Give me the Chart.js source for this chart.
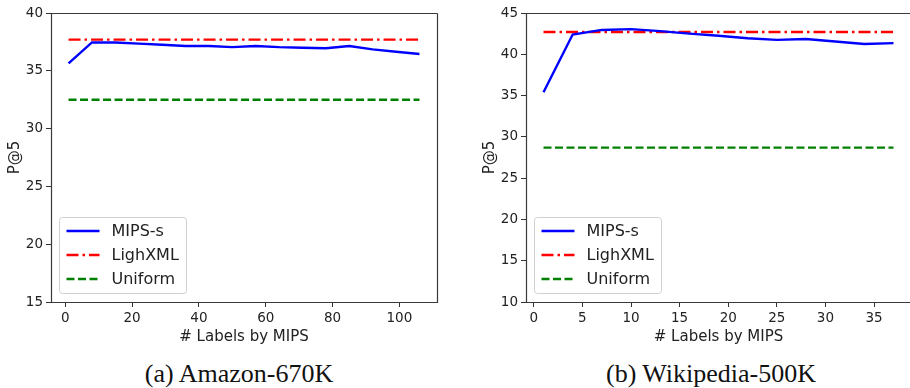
<!DOCTYPE html>
<html>
<head>
<meta charset="utf-8">
<script src="https://cdn.jsdelivr.net/npm/chart.js@4.4.1/dist/chart.umd.min.js"></script>
<style>
  html, body { margin: 0; padding: 0; background: #fff; width: 910px; height: 388px; overflow: hidden; position: relative; }
  canvas { position: absolute; top: 0; }
  #chartA { left: 0; }
  #chartB { left: 455px; }
  .caption { position: absolute; top: 359px; font-family: "Liberation Serif", serif; font-size: 26px; color: #111; transform: translateX(-50%); white-space: nowrap; }
</style>
</head>
<body>
<canvas id="chartA" width="455" height="347"></canvas>
<canvas id="chartB" width="460" height="347"></canvas>
<div class="caption" style="left:239px">(a) Amazon-670K</div>
<div class="caption" style="left:711px">(b) Wikipedia-500K</div>
<script>
// Amazon-670K
const amazonLabels = [1, 8, 15, 22, 29, 36, 43, 50, 57, 64, 71, 78, 85, 92, 99, 106];
const amazonMips = [35.65, 37.45, 37.45, 37.35, 37.25, 37.15, 37.15, 37.05, 37.15, 37.05, 37.0, 36.95, 37.15, 36.85, 36.65, 36.45];
const amazonLighXML = 37.7;
const amazonUniform = 32.5;
const amazonXTicks = [0, 20, 40, 60, 80, 100];
const amazonYTicks = [15, 20, 25, 30, 35, 40];

// Wikipedia-500K
const wikiLabels = [1, 4, 7, 10, 13, 16, 19, 22, 25, 28, 31, 34, 37];
const wikiMips = [35.4, 42.4, 42.95, 43.05, 42.8, 42.5, 42.25, 41.95, 41.75, 41.85, 41.55, 41.25, 41.35];
const wikiLighXML = 42.7;
const wikiUniform = 28.7;
const wikiXTicks = [0, 5, 10, 15, 20, 25, 30, 35];
const wikiYTicks = [10, 15, 20, 25, 30, 35, 40, 45];

const seriesNames = ['MIPS-s', 'LighXML', 'Uniform'];

Chart.defaults.font.family = '"DejaVu Sans", sans-serif';
Chart.defaults.color = '#222';

// matplotlib-like frame around the plot area (right side optional)
const framePlugin = {
    id: 'frame',
    afterDraw(chart, args, opts) {
        const a = chart.chartArea;
        const c = chart.ctx;
        const l = a.left + 0.5, t = a.top + 0.5, r = a.right + 0.5, b = a.bottom + 0.5;
        c.save();
        c.strokeStyle = '#3a3a3a';
        c.lineWidth = 1.2;
        c.beginPath();
        c.moveTo(r, t); c.lineTo(l, t); c.lineTo(l, b); c.lineTo(r, b);
        if (!opts.noRight) c.lineTo(r, t);
        c.stroke();
        c.restore();
    }
};

// legend box in the lower-left corner of the plot area
const legendPlugin = {
    id: 'innerLegend',
    afterDatasetsDraw(chart) {
        const a = chart.chartArea;
        const c = chart.ctx;
        const x = a.left + 8.5, w = 127, h = 76;
        const y = a.bottom - 8.5 - h;
        c.save();
        c.beginPath();
        c.roundRect(x, y, w, h, 3);
        c.fillStyle = 'rgba(255,255,255,0.85)';
        c.fill();
        c.strokeStyle = '#d0d0d0';
        c.lineWidth = 1;
        c.stroke();
        c.font = '16px "DejaVu Sans", sans-serif';
        c.textBaseline = 'middle';
        chart.data.datasets.forEach((ds, i) => {
            const ry = y + 13.5 + i * 24;
            c.beginPath();
            c.setLineDash(ds.borderDash || []);
            c.strokeStyle = ds.borderColor;
            c.lineWidth = ds.borderWidth;
            c.moveTo(x + 7, ry);
            c.lineTo(x + 40, ry);
            c.stroke();
            c.setLineDash([]);
            c.fillStyle = '#222';
            c.fillText(ds.label, x + 52, ry + 1);
        });
        c.restore();
    }
};

function makeChart(id, labels, mips, lighxml, uniform, xTicks, yTicks, xMin, xMax, padLeft, padRight, noRight) {
    const first = labels[0], last = labels[labels.length - 1];
    new Chart(document.getElementById(id), {
        type: 'line',
        data: {
            datasets: [
                {
                    label: seriesNames[0],
                    data: labels.map((l, i) => ({ x: l, y: mips[i] })),
                    borderColor: '#0000ff',
                    borderWidth: 2.4
                },
                {
                    label: seriesNames[1],
                    data: [{ x: first, y: lighxml }, { x: last, y: lighxml }],
                    borderColor: '#ff0000',
                    borderWidth: 2.4,
                    borderDash: [12, 4, 2.5, 4]
                },
                {
                    label: seriesNames[2],
                    data: [{ x: first, y: uniform }, { x: last, y: uniform }],
                    borderColor: '#008000',
                    borderWidth: 2.4,
                    borderDash: [8, 3.5]
                }
            ]
        },
        options: {
            responsive: false,
            animation: false,
            devicePixelRatio: 1,
            elements: { point: { radius: 0 }, line: { tension: 0, fill: false } },
            layout: { padding: { left: padLeft, right: padRight, top: 13, bottom: 0 } },
            plugins: { legend: { display: false }, tooltip: { enabled: false }, frame: { noRight: noRight } },
            scales: {
                x: {
                    type: 'linear',
                    min: xMin,
                    max: xMax,
                    afterBuildTicks: s => { s.ticks = xTicks.map(v => ({ value: v })); },
                    afterFit: s => { s.height = 45; },
                    grid: { drawOnChartArea: false, tickLength: 5, color: '#333' },
                    border: { display: false },
                    ticks: { font: { size: 13.5 }, padding: 3, maxRotation: 0, color: '#222' },
                    title: { display: true, text: '# Labels by MIPS', font: { size: 15 }, color: '#222', padding: { top: 0, bottom: 1 } }
                },
                y: {
                    min: yTicks[0],
                    max: yTicks[yTicks.length - 1],
                    afterBuildTicks: s => { s.ticks = yTicks.map(v => ({ value: v })); },
                    afterFit: s => { s.width = 51; },
                    grid: { drawOnChartArea: false, tickLength: 5, color: '#333' },
                    border: { display: false },
                    ticks: { font: { size: 13.5 }, padding: 3, color: '#222' },
                    title: { display: true, text: 'P@5', font: { size: 15 }, color: '#222', padding: { top: 6, bottom: 0 } }
                }
            }
        },
        plugins: [framePlugin, legendPlugin]
    });
}

makeChart('chartA', amazonLabels, amazonMips, amazonLighXML, amazonUniform, amazonXTicks, amazonYTicks, -4.25, 111.25, 0, 18, false);
makeChart('chartB', wikiLabels, wikiMips, wikiLighXML, wikiUniform, wikiXTicks, wikiYTicks, -0.8, 38.8, 20, 4, true);
</script>
</body>
</html>
